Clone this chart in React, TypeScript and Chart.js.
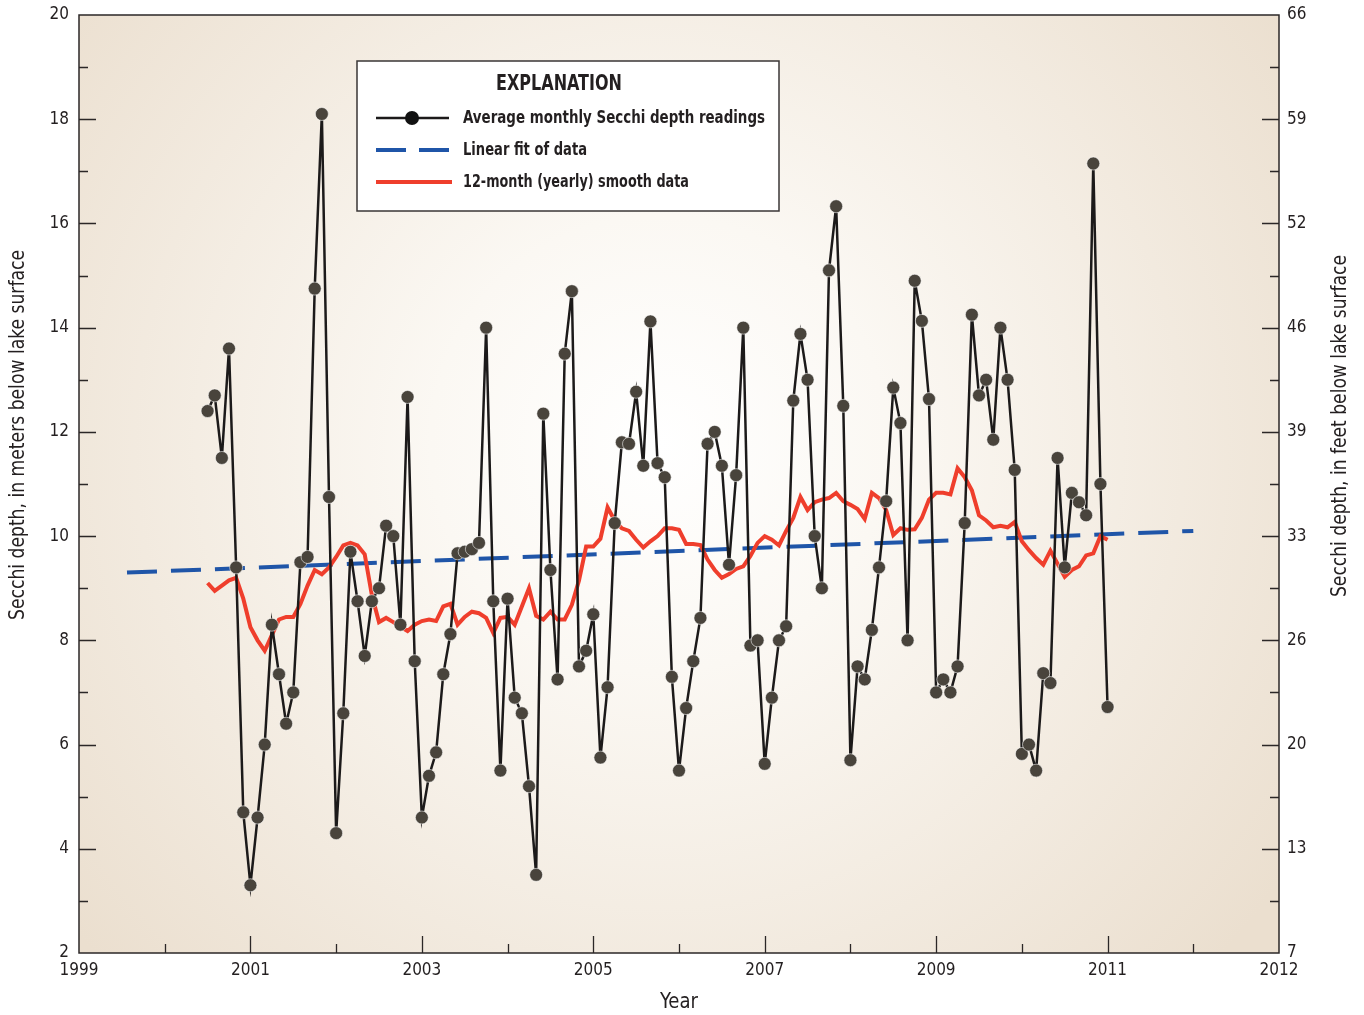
import React, { useEffect, useRef } from "react";
import { Chart, registerables } from "chart.js";

Chart.register(...registerables);

// ---- data ----
const FIRST_MONTH_YEAR = 2000.5; // July 2000
const secchiMonthly: number[] = [
  12.4, 12.7, 11.5, 13.6, 9.4, 4.7, 3.3, 4.6, 6.0, 8.3,
  7.35, 6.4, 7.0, 9.5, 9.6, 14.75, 18.1, 10.75, 4.3, 6.6,
  9.7, 8.75, 7.7, 8.75, 9.0, 10.2, 10.0, 8.3, 12.67, 7.6,
  4.6, 5.4, 5.85, 7.35, 8.12, 9.67, 9.7, 9.75, 9.87, 14.0,
  8.75, 5.5, 8.8, 6.9, 6.6, 5.2, 3.5, 12.35, 9.35, 7.25,
  13.5, 14.7, 7.5, 7.8, 8.5, 5.75, 7.1, 10.25, 11.8, 11.77,
  12.77, 11.35, 14.12, 11.4, 11.13, 7.3, 5.5, 6.7, 7.6, 8.43,
  11.77, 12.0, 11.35, 9.45, 11.17, 14.0, 7.9, 8.0, 5.63, 6.9,
  8.0, 8.27, 12.6, 13.88, 13.0, 10.0, 9.0, 15.1, 16.33, 12.5,
  5.7, 7.5, 7.25, 8.2, 9.4, 10.67, 12.85, 12.17, 8.0, 14.9,
  14.13, 12.63, 7.0, 7.25, 7.0, 7.5, 10.25, 14.25, 12.7, 13.0,
  11.85, 14.0, 13.0, 11.27, 5.82, 6.0, 5.5, 7.37, 7.18, 11.5,
  9.4, 10.83, 10.65, 10.4, 17.15, 11.0, 6.72,
];
const smooth12Month: number[] = [
  9.1, 8.95, 9.05, 9.15, 9.2, 8.8, 8.25, 8.0, 7.8, 8.1,
  8.4, 8.45, 8.45, 8.7, 9.05, 9.35, 9.27, 9.4, 9.6, 9.82,
  9.87, 9.82, 9.65, 8.87, 8.35, 8.43, 8.35, 8.26, 8.18, 8.3,
  8.37, 8.4, 8.37, 8.65, 8.7, 8.3, 8.45, 8.55, 8.52, 8.43,
  8.14, 8.43, 8.45, 8.3, 8.65, 9.0, 8.47, 8.4, 8.55, 8.4,
  8.4, 8.68, 9.15, 9.8, 9.8, 9.95, 10.55, 10.3, 10.15, 10.1,
  9.93, 9.78, 9.9, 10.0, 10.15, 10.15, 10.12, 9.85, 9.85, 9.83,
  9.55, 9.35, 9.2, 9.27, 9.37, 9.42, 9.62, 9.87, 10.0, 9.93,
  9.82, 10.1, 10.35, 10.75, 10.5, 10.65, 10.7, 10.73, 10.83, 10.67,
  10.6, 10.52, 10.33, 10.83, 10.73, 10.5, 10.02, 10.15, 10.12, 10.13,
  10.35, 10.7, 10.83, 10.83, 10.8, 11.3, 11.13, 10.88, 10.4, 10.3,
  10.17, 10.2, 10.17, 10.27, 9.9, 9.73, 9.58, 9.45, 9.72, 9.47,
  9.22, 9.35, 9.42, 9.63, 9.67, 10.0, 9.93,
];
const fitYears: number[] = [1999.56, 2012.0];
const fitValues: number[] = [9.3, 10.1];
const xLabelYears: number[] = [1999, 2001, 2003, 2005, 2007, 2009, 2011];
const xEndLabel = "2012";
const legendTitle = "EXPLANATION";
const legendLabels: string[] = [
  "Average monthly Secchi depth readings",
  "Linear fit of data",
  "12-month (yearly) smooth data",
];
const yTitleLeft = "Secchi depth, in meters below lake surface";
const yTitleRight = "Secchi depth, in feet below lake surface";
const xTitle = "Year";

const FONT = '"DejaVu Sans Condensed", "Liberation Sans Narrow", "Roboto", sans-serif';
const TEXT = "#231f20";

const monthX = (i: number) => FIRST_MONTH_YEAR + i / 12;

// draws text squeezed horizontally to a target width (condensed look)
function fitText(ctx: any, text: string, x: number, y: number, targetW: number, align: string) {
  const w = ctx.measureText(text).width;
  const s = Math.min(1, targetW / w);
  ctx.save();
  ctx.translate(x, y);
  ctx.scale(s, 1);
  ctx.textAlign = align;
  ctx.fillText(text, 0, 0);
  ctx.restore();
}

const decorPlugin = {
  id: "decor",
  beforeDraw(chart: any) {
    const { ctx, chartArea: a } = chart;
    ctx.save();
    const cx = (a.left + a.right) / 2 - 20;
    const cy = (a.top + a.bottom) / 2 - 40;
    const g = ctx.createRadialGradient(cx, cy, 0, cx, cy, 760);
    g.addColorStop(0, "#ffffff");
    g.addColorStop(0.3, "#fbf8f3");
    g.addColorStop(1, "#ebdfcf");
    ctx.fillStyle = g;
    ctx.fillRect(a.left, a.top, a.right - a.left, a.bottom - a.top);
    ctx.restore();
  },
  afterDraw(chart: any) {
    const { ctx, chartArea: a, scales } = chart;
    const y = scales.y;
    const x = scales.x;
    ctx.save();
    // frame
    ctx.strokeStyle = "#2b2727";
    ctx.lineWidth = 1.5;
    ctx.strokeRect(a.left, a.top, a.right - a.left, a.bottom - a.top);
    // ticks (inward)
    ctx.lineWidth = 1.3;
    for (let v = 3; v < 20; v++) {
      const py = Math.round(y.getPixelForValue(v)) + 0.5;
      const len = v % 2 === 0 ? 17 : 9;
      ctx.beginPath();
      ctx.moveTo(a.left, py);
      ctx.lineTo(a.left + len, py);
      ctx.moveTo(a.right, py);
      ctx.lineTo(a.right - len, py);
      ctx.stroke();
    }
    for (let yr = 2000; yr < 2013; yr++) {
      const px = Math.round(x.getPixelForValue(yr)) + 0.5;
      const len = yr % 2 === 1 ? 17 : 9;
      ctx.beginPath();
      ctx.moveTo(px, a.bottom);
      ctx.lineTo(px, a.bottom - len);
      ctx.stroke();
    }
    // axis titles
    ctx.fillStyle = TEXT;
    ctx.font = `21px ${FONT}`;
    ctx.textBaseline = "middle";
    ctx.save();
    ctx.translate(19, 435);
    ctx.rotate(-Math.PI / 2);
    fitText(ctx, yTitleLeft, 0, 0, 370, "center");
    ctx.restore();
    ctx.save();
    ctx.translate(1341, 426);
    ctx.rotate(-Math.PI / 2);
    fitText(ctx, yTitleRight, 0, 0, 342, "center");
    ctx.restore();
    fitText(ctx, xTitle, 679, 1003, 38, "center");

    // legend box
    const bx = 357, by = 61, bw = 422, bh = 150;
    ctx.fillStyle = "#ffffff";
    ctx.fillRect(bx, by, bw, bh);
    ctx.strokeStyle = "#3a3636";
    ctx.lineWidth = 1.5;
    ctx.strokeRect(bx, by, bw, bh);
    ctx.fillStyle = TEXT;
    ctx.font = `bold 21px ${FONT}`;
    fitText(ctx, legendTitle, 559, 85, 126, "center");
    ctx.font = `bold 18px ${FONT}`;
    const rows = [118, 150, 182];
    const widths = [302, 124, 226];
    legendLabels.forEach((t, i) => fitText(ctx, t, 463, rows[i], widths[i], "left"));
    // row 1
    ctx.strokeStyle = "#1c1a1a";
    ctx.lineWidth = 2.5;
    ctx.beginPath();
    ctx.moveTo(376, rows[0]);
    ctx.lineTo(449, rows[0]);
    ctx.stroke();
    ctx.fillStyle = "#111";
    ctx.beginPath();
    ctx.arc(412, rows[0], 7, 0, Math.PI * 2);
    ctx.fill();
    // row 2
    ctx.strokeStyle = "#1f55a8";
    ctx.lineWidth = 4;
    ctx.beginPath();
    ctx.moveTo(376, rows[1]);
    ctx.lineTo(406, rows[1]);
    ctx.moveTo(419, rows[1]);
    ctx.lineTo(449, rows[1]);
    ctx.stroke();
    // row 3
    ctx.strokeStyle = "#ef3e2c";
    ctx.beginPath();
    ctx.moveTo(376, rows[2]);
    ctx.lineTo(452, rows[2]);
    ctx.stroke();
    ctx.restore();
  },
};

export default function App() {
  const ref = useRef<HTMLCanvasElement | null>(null);
  useEffect(() => {
    if (!ref.current) return;
    const monthly = secchiMonthly.map((v, i) => ({ x: monthX(i), y: v }));
    const smooth = smooth12Month.map((v, i) => ({ x: monthX(i), y: v }));
    const fit = fitYears.map((yr, i) => ({ x: yr, y: fitValues[i] }));
    const tickFont = { family: FONT, size: 17, lineHeight: 0.5 };
    const chart = new Chart(ref.current, {
      type: "line",
      data: {
        datasets: [
          {
            label: legendLabels[0],
            data: monthly,
            borderColor: "#1c1a1a",
            borderWidth: 2.5,
            pointRadius: 6.5,
            pointBackgroundColor: "#49443c",
            pointBorderColor: "rgba(255,255,255,0.55)",
            pointBorderWidth: 1,
            tension: 0,
            order: 1,
          },
          {
            label: legendLabels[2],
            data: smooth,
            borderColor: "#ef3e2c",
            borderWidth: 4,
            pointRadius: 0,
            tension: 0,
            order: 2,
          },
          {
            label: legendLabels[1],
            data: fit,
            borderColor: "#1f55a8",
            borderWidth: 4,
            borderDash: [30, 14],
            pointRadius: 0,
            order: 3,
          },
        ],
      },
      options: {
        responsive: false,
        animation: false,
        events: [],
        layout: { padding: { top: 15, left: 0, right: 0, bottom: 0 } },
        plugins: { legend: { display: false }, tooltip: { enabled: false } },
        scales: {
          x: {
            type: "linear",
            min: 1999,
            max: 2013,
            position: "bottom",
            grid: { display: false, drawTicks: false },
            border: { display: false },
            afterFit: (s: any) => { s.height = 62; },
            ticks: {
              stepSize: 1,
              autoSkip: false,
              maxRotation: 0,
              padding: 13,
              color: TEXT,
              font: tickFont,
              callback: (v: any) => {
                const n = Number(v);
                if (n === 2013) return xEndLabel;
                return xLabelYears.includes(n) ? String(n) : "";
              },
            },
          },
          y: {
            type: "linear",
            min: 2,
            max: 20,
            position: "left",
            grid: { display: false, drawTicks: false },
            border: { display: false },
            afterFit: (s: any) => { s.width = 79; },
            ticks: {
              stepSize: 1,
              autoSkip: false,
              padding: 10,
              color: TEXT,
              font: tickFont,
              callback: (v: any) => (Number(v) % 2 === 0 ? String(v) : ""),
            },
          },
          y2: {
            type: "linear",
            min: 2,
            max: 20,
            position: "right",
            grid: { display: false, drawTicks: false },
            border: { display: false },
            afterFit: (s: any) => { s.width = 85; },
            ticks: {
              stepSize: 1,
              autoSkip: false,
              padding: 8,
              color: TEXT,
              font: tickFont,
              callback: (v: any) =>
                Number(v) % 2 === 0 ? String(Math.round(Number(v) * 3.28084)) : "",
            },
          },
        },
      },
      plugins: [decorPlugin],
    } as any);
    return () => chart.destroy();
  }, []);
  return (
    <div style={{ position: "fixed", left: 0, top: 0, width: 1364, height: 1015, background: "#fff" }}>
      <canvas ref={ref} width={1364} height={1015} style={{ width: 1364, height: 1015, display: "block" }} />
    </div>
  );
}
